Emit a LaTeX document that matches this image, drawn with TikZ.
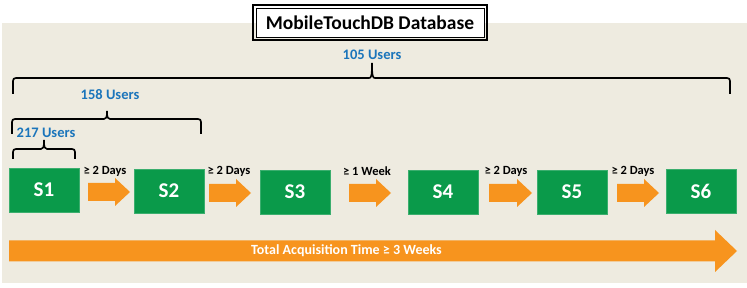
\documentclass[tikz,border=0pt]{standalone}
\usepackage{fontspec}
\setmainfont{Carlito}
\definecolor{bgbeige}{RGB}{238,235,224}
\definecolor{boxgreen}{RGB}{10,154,74}
\definecolor{arrorange}{RGB}{247,148,30}
\definecolor{userblue}{RGB}{27,117,187}
\newcommand\usrbrace[6]{% L R T B M P
  \draw[bracestyle] (#1,#4) -- (#1,#3+3) .. controls (#1,#3+1) and (#1+1,#3) .. (#1+3,#3)
    -- (#5-3,#3) .. controls (#5-1,#3) and (#5,#3-1) .. (#5,#6)
    .. controls (#5,#3-1) and (#5+1,#3) .. (#5+3,#3)
    -- (#2-3,#3) .. controls (#2-1,#3) and (#2,#3+1) .. (#2,#3+3) -- (#2,#4);}
% block arrow: x1, x2 (tip), yc, body half, head half, head length
\newcommand\blockarrow[6]{%
  \fill[arrorange] (#1,#3-#4) -- (#2-#6,#3-#4) -- (#2-#6,#3-#5) -- (#2,#3)
    -- (#2-#6,#3+#5) -- (#2-#6,#3+#4) -- (#1,#3+#4) -- cycle;}
\begin{document}
\begin{tikzpicture}[x=1pt,y=-1pt,
  stepbox/.style={draw=boxgreen!80!white, line width=0.6pt, fill=boxgreen, minimum width=70pt, minimum height=44pt, inner sep=0pt, text=white, font=\bfseries\fontsize{21}{21}\selectfont},
  gaplabel/.style={font=\bfseries\fontsize{12.5}{12.5}\selectfont, text=black, inner sep=0pt},
  userlabel/.style={font=\bfseries\fontsize{14.5}{14.5}\selectfont, text=userblue, inner sep=0pt},
  bracestyle/.style={draw=black, line width=1.6pt}
]
\useasboundingbox (0,0) rectangle (747,288);
\fill[bgbeige] (2,23) rectangle (747,283);

% title
\node[draw=black, line width=0.9pt, fill=white, minimum width=228pt, minimum height=29pt, inner sep=0pt,
  font=\bfseries\fontsize{19.5}{19.5}\selectfont] (title) at (370,22.5) {MobileTouchDB Database};
\draw[line width=2pt] ([shift={(-3pt,3pt)}]title.north west) rectangle ([shift={(3pt,-3pt)}]title.south east);

% braces
\usrbrace{13}{730}{78}{94}{372}{63}
\node[userlabel] (u105) at (372,54.5) {105 Users};
\usrbrace{12}{201}{119}{134}{107}{111}
\node[userlabel] (u158) at (110,95) {158 Users};
\usrbrace{13}{75}{149}{159}{44}{140}
\node[userlabel] (u217) at (46,133) {217 Users};

% steps
\node[stepbox] (s1) at (44,190) {S1};
\node[stepbox] (s2) at (169,191) {S2};
\node[stepbox] (s3) at (295,192) {S3};
\node[stepbox] (s4) at (443,192) {S4};
\node[stepbox] (s5) at (572,192) {S5};
\node[stepbox] (s6) at (701,191) {S6};

% gap arrows
\blockarrow{88}{130}{192}{9}{14}{15}
\blockarrow{209}{251}{193}{9}{14}{15}
\blockarrow{349}{391}{193}{9}{14}{15}
\blockarrow{489}{532}{193}{9}{14}{15}
\blockarrow{617}{659}{193}{9}{14}{15}
\node[gaplabel] (l1) at (105,171) {≥ 2 Days};
\node[gaplabel] (l2) at (229,171) {≥ 2 Days};
\node[gaplabel] (l3) at (367,171) {≥ 1 Week};
\node[gaplabel] (l4) at (506,171) {≥ 2 Days};
\node[gaplabel] (l5) at (633,171) {≥ 2 Days};

% total arrow
\blockarrow{9}{737}{251}{10.5}{21}{22}
\node[font=\bfseries\fontsize{14}{14}\selectfont, text=white, inner sep=0pt] (totallabel) at (346.5,251) {Total Acquisition Time ≥ 3 Weeks};
\end{tikzpicture}
\end{document}
